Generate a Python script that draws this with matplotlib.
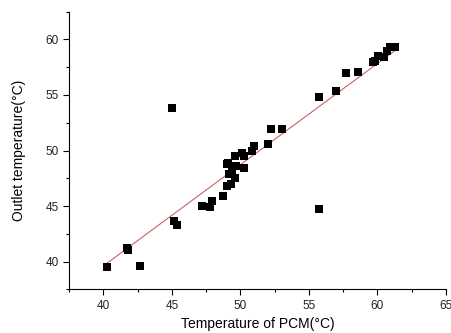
import numpy as np
import matplotlib
matplotlib.use('Agg')
import matplotlib.pyplot as plt
from matplotlib.ticker import MultipleLocator

# PCM temperature vs outlet temperature
pcm_temp = [40.3, 41.7, 41.8, 42.65, 45.0, 45.15, 45.4, 47.2, 47.8, 47.9,
            48.7, 49.0, 49.1, 49.0, 49.3, 49.2, 49.4, 49.6, 49.7, 49.6,
            50.1, 50.3, 50.25, 50.85, 51.0, 52.05, 52.2, 53.05, 55.7, 55.7,
            56.95, 57.7, 58.6, 59.65, 59.85, 60.05, 60.5, 60.7, 60.9, 61.3]
outlet_temp = [39.5, 41.2, 41.05, 39.6, 53.85, 43.7, 43.3, 45.0, 44.95, 45.5,
               45.9, 48.8, 48.9, 46.8, 46.95, 47.9, 48.2, 47.55, 48.6, 49.55,
               49.75, 49.55, 48.4, 50.0, 50.4, 50.6, 51.95, 51.95, 54.85, 44.75,
               55.4, 57.0, 57.05, 57.95, 58.1, 58.5, 58.4, 58.95, 59.3, 59.3]

plt.rcParams['font.family'] = ['Liberation Sans', 'DejaVu Sans']

fig = plt.figure(figsize=(4.51, 3.33), dpi=100)
ax = fig.add_axes([0.153, 0.131, 0.836, 0.834])

ax.scatter(pcm_temp, outlet_temp, marker='s', s=34, color='black', zorder=3, linewidths=0)

# linear fit
k, b = np.polyfit(pcm_temp, outlet_temp, 1)
xs = np.array([min(pcm_temp), max(pcm_temp)])
ax.plot(xs, k * xs + b, color='#c86464', lw=0.8, zorder=2)

ax.set_xlim(37.5, 65)
ax.set_ylim(37.5, 62.5)
ax.xaxis.set_major_locator(MultipleLocator(5))
ax.xaxis.set_minor_locator(MultipleLocator(2.5))
ax.yaxis.set_major_locator(MultipleLocator(5))
ax.yaxis.set_minor_locator(MultipleLocator(2.5))
ax.spines['top'].set_visible(False)
ax.spines['right'].set_visible(False)
ax.tick_params(which='major', direction='out', length=4, width=0.8, labelsize=8.5, labelcolor='#222222')
ax.tick_params(axis='x', which='major', pad=3.5)
ax.tick_params(axis='y', which='major', pad=3.5)
ax.tick_params(which='minor', direction='out', length=2.5, width=0.8)

ax.set_xlabel('Temperature of PCM(°C)', fontsize=10, labelpad=4)
ax.set_ylabel('Outlet temperature(°C)', fontsize=10, labelpad=14)

fig.savefig('out.png', dpi=100)
